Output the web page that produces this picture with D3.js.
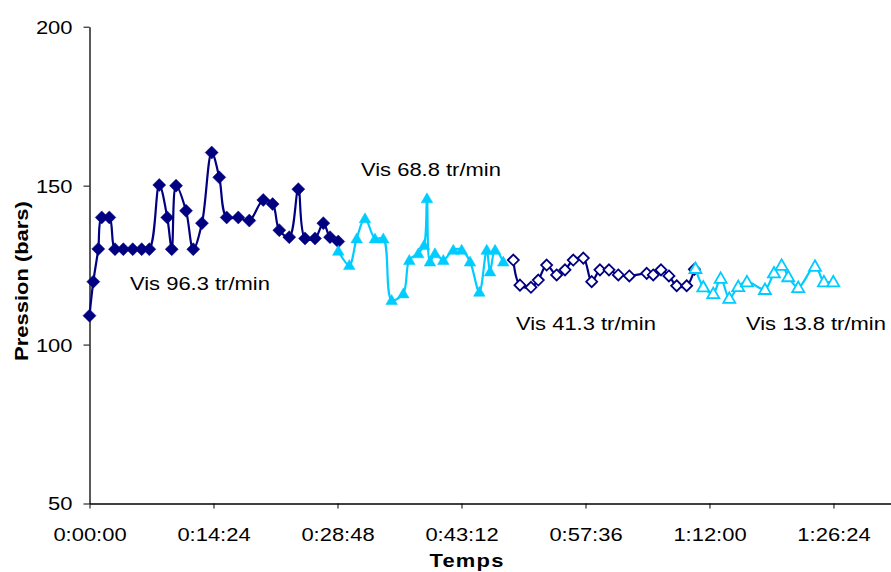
<!DOCTYPE html>
<html><head><meta charset="utf-8">
<script src="https://cdn.jsdelivr.net/npm/d3@7"></script>
<style>body{margin:0;background:#fff}svg{display:block}text{font-family:"Liberation Sans",Arial,sans-serif}</style>
</head><body><svg id="c" width="891" height="572"></svg>
<script>
// time in minutes, pressure in bars
const t96 = [0,0.44,1.02,1.42,2.30,2.96,3.93,5.02,6.06,6.95,8.10,9.03,9.55,10.05,11.21,12.05,13.06,14.19,15.07,15.93,17.28,18.56,20.18,21.27,22.04,23.20,24.25,25.03,26.19,27.15,27.93,28.89];
const p96 = [109.1,119.8,130.1,140,140,130,130,130,130,130,150.2,140,130,150,142.1,130,138.2,160.4,152.6,140,140,139,145.5,144.2,136,133.8,148.9,133.4,133.4,138.2,133.8,132.4];
const t688 = [28.89,30.17,31.03,31.99,33.15,34.12,35.09,36.44,37.14,38.18,38.85,39.19,39.54,40.12,41.09,42.25,43.22,44.19,45.27,46.13,46.52,47.10,48.05];
const p688 = [129.5,125,133.4,139.7,133.4,133.4,114,116.1,126.6,128.7,131.3,146,126.1,128.7,126.6,129.8,129.8,126.1,116.6,129.8,123,129.8,126.1];
const t413 = [49.22,49.99,51.27,52.12,53.09,54.25,55.22,56.18,57.35,58.32,59.28,60.33,61.41,62.69,64.71,65.47,66.37,67.29,68.19,69.35,70.25];
const p413 = [126.6,118.7,118,120.3,125,121.9,123.5,126.6,127.2,119.8,123.5,123.5,121.9,121.6,122.4,121.9,123.5,121.6,118.5,118.5,123.7];
const t138 = [70.37,71.28,72.44,73.30,74.30,75.34,76.35,78.44,79.49,80.38,81.15,82.31,84.25,85.29,86.38];
const p138 = [124,118.2,116.1,120.9,114.6,118.3,119.8,117.4,122.6,125,121.4,118,124.7,119.8,119.8];
const seriesNames = ["Vis 96.3 tr/min","Vis 68.8 tr/min","Vis 41.3 tr/min","Vis 13.8 tr/min"];
const xTicks = [0,14.4,28.8,43.2,57.6,72,86.4];
const yTicks = [50,100,150,200];
const xDomain = [0,93.08];
const yDomain = [50,200];
const xTitle = "Temps", yTitle = "Pression (bars)";

const svg = d3.select("#c");
const M = {l:89.5, r:891, t:26.7, b:503.5};
const x = d3.scaleLinear().domain(xDomain).range([M.l, M.r]);
const y = d3.scaleLinear().domain(yDomain).range([M.b, M.t]);
const SX = 1.22, FS = 18;

function fmt(m){const s=Math.round(m*60);const h=Math.floor(s/3600),mm=Math.floor(s%3600/60),ss=s%60;return h+":"+String(mm).padStart(2,"0")+":"+String(ss).padStart(2,"0");}

const gx = svg.append("g").attr("transform",`translate(0,${M.b})`)
  .call(d3.axisBottom(x).tickValues(xTicks).tickFormat(fmt).tickSize(5).tickSizeOuter(0));
gx.select(".domain").attr("stroke","#000").attr("stroke-width",1.3);
gx.selectAll(".tick line").attr("stroke","#000");
gx.selectAll(".tick text").attr("y",38).attr("dy",0).attr("fill","#000")
  .style("font-size",FS+"px").attr("font-family",null).attr("transform",`scale(${SX},1)`);

const gy = svg.append("g").attr("transform",`translate(${M.l},0)`)
  .call(d3.axisLeft(y).tickValues(yTicks).tickSize(6).tickSizeOuter(0));
gy.select(".domain").attr("stroke","#000").attr("stroke-width",1.3);
gy.selectAll(".tick line").attr("stroke","#000");
gy.selectAll(".tick text").attr("x",0).attr("dy","0.36em").attr("fill","#000")
  .style("font-size",FS+"px").attr("font-family",null).attr("transform",`translate(-17,0) scale(${SX},1)`);

const series = [
  {t:t96,p:p96,color:"#000080",shape:"diamond",fill:true},
  {t:t688,p:p688,color:"#00CCFF",shape:"triangle",fill:true},
  {t:t413,p:p413,color:"#000080",shape:"diamond",fill:false},
  {t:t138,p:p138,color:"#00CCFF",shape:"triangle",fill:false}
];
const line = d3.line().x(d=>x(d[0])).y(d=>y(d[1])).curve(d3.curveCatmullRom.alpha(0.5));
function shapePath(s,fill){
  if(s==="diamond"){const r=fill?6.5:5.5;return `M0,${-r}L${r},0L0,${r}L${-r},0Z`;}
  const w=fill?5.8:6,h=fill?10:10.5;return `M0,${-h*0.55}L${w},${h*0.45}L${-w},${h*0.45}Z`;
}
series.forEach(s=>{
  const pts = s.t.map((t,i)=>[t,s.p[i]]);
  svg.append("path").datum(pts).attr("d",line).attr("fill","none").attr("stroke",s.color).attr("stroke-width",2.2);
  svg.append("g").selectAll("path").data(pts).join("path")
    .attr("transform",d=>`translate(${x(d[0])},${y(d[1])})`)
    .attr("d",shapePath(s.shape,s.fill))
    .attr("fill",s.fill?s.color:"#fff").attr("stroke",s.color).attr("stroke-width",s.fill?0.5:1.8);
});

function stext(txt,px,py,opts={}){
  const t = svg.append("text").attr("transform",`translate(${px},${py})${opts.rot?" rotate(-90)":""} scale(${SX},1)`)
    .attr("text-anchor",opts.anchor||"start").style("font-size",(opts.fs||FS)+"px").attr("fill","#000").text(txt);
  if(opts.bold) t.attr("font-weight","bold");
  if(opts.ls) t.style("letter-spacing",opts.ls+"px");
  return t;
}
stext(seriesNames[0], 130, 290);
stext(seriesNames[1], 361, 176);
stext(seriesNames[2], 516, 330);
stext(seriesNames[3], 746, 330);
stext(xTitle, 467, 567, {anchor:"middle", bold:true, ls:1});
stext(yTitle, 28, 281, {anchor:"middle", bold:true, rot:true});
</script></body></html>
